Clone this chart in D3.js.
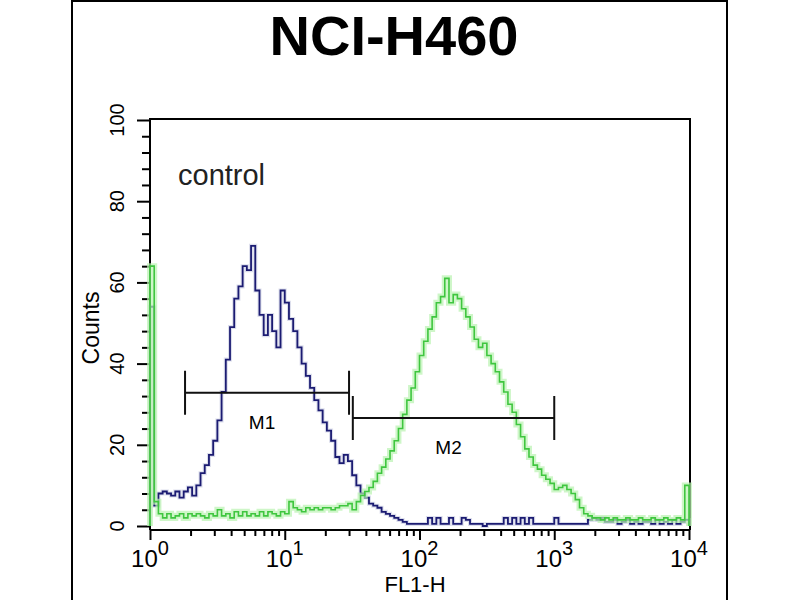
<!DOCTYPE html>
<html>
<head>
<meta charset="utf-8">
<script src="https://cdn.jsdelivr.net/npm/d3@7"></script>
<style>
  html, body { margin: 0; padding: 0; background: #fff; }
  svg { display: block; font-family: "Liberation Sans", Arial, sans-serif; }
</style>
</head>
<body>
<div id="chart"></div>
<script>
// FL1-H histogram, control (blue) vs sample (green)

const width = 800;
const height = 600;
const plot = {left: 150, right: 689, top: 120, bottom: 526};
const axisY = 530;

// 128 log channels over 4 decades
const nChannels = 128;

// counts per channel
const controlCounts = [
  54, 5, 8, 8.5, 8, 7.5, 8.5, 7, 8.5, 9.5, 7.5, 10, 13, 15, 17.5, 21,
  26, 33, 41, 49, 56, 59, 64, 63, 69, 58, 52, 47, 52, 48, 44, 58,
  55, 51, 48, 44, 40, 37, 34, 31, 28.5, 25.5, 23.5, 21, 17, 15.5, 17.5, 16,
  12.5, 10, 8, 7, 5.5, 5, 4.5, 3.5, 3, 2.5, 2, 1.5, 1, 0.5, 0.5, 0.5,
  0.5, 0.5, 2, 0.5, 2, 0.5, 0.5, 2, 0.5, 0.5, 2, 1.5, 0.5, 0.5, 0.5, 0,
  0.5, 0.5, 0.5, 0.5, 2, 0.5, 2, 0.5, 2, 0.5, 2, 0.5, 0.5, 0.5, 0.5, 0.5,
  2, 0.5, 0.5, 0.5, 0.5, 0.5, 0.5, 0.5, 1.5, 2, 1.5, 2, 1, 1, 1.5, 0.5,
  1, 1.5, 0.5, 1, 0.5, 1, 1, 0.5, 1.5, 0.5, 1, 0.5, 1.5, 0.5, 1, 1.5
];

const sampleCounts = [
  64, 6, 3, 2, 3, 2, 2.5, 3, 2, 3, 2.5, 3, 2.5, 2, 3, 2.5,
  4, 2.5, 3, 2, 3.5, 2.5, 3.5, 2.5, 3, 2.5, 3.5, 2.5, 3.5, 3, 2.5, 3.5,
  3, 6, 4.5, 4, 3.5, 4.5, 4, 4.5, 4, 4.5, 4.5, 4, 4.5, 5, 5, 5.5,
  4, 6, 7.5, 8.5, 9.5, 11, 13, 14.5, 16.5, 18.5, 21, 24, 27.5, 31, 34, 38,
  42, 45.5, 48.5, 51.5, 55, 56.5, 61, 55, 57, 56, 53.5, 51.5, 49, 46, 44, 45,
  42, 40, 38, 35.5, 33, 30, 28, 25, 22, 19, 17, 15, 14, 12.5, 11.5, 10.5,
  9, 9.5, 10, 9, 8, 6.5, 4.5, 3, 2.5, 2, 2, 1.5, 2, 1.5, 2, 1.5,
  1.5, 2, 1.5, 1.5, 2, 1.5, 1.5, 2, 1.5, 1.5, 2, 1.5, 1.5, 2, 1.5, 10
];

// axis ticks
const yTicks = [0, 20, 40, 60, 80, 100];
const xMajor = [1, 10, 100, 1000, 10000];
const xExponents = ["0", "1", "2", "3", "4"];

// marker gates
const gateNames = ["M1", "M2"];
const gateStart = [1.82, 32];
const gateEnd = [30, 1000];
const gateLevel = [32.8, 26.6];

const svg = d3.select("#chart")
  .append("svg")
  .attr("width", width)
  .attr("height", height)
  .attr("viewBox", [0, 0, width, height]);

// outer frame of the picture
svg.append("rect")
  .attr("x", 72).attr("y", 1)
  .attr("width", 655).attr("height", 620)
  .attr("fill", "none")
  .attr("stroke", "#000")
  .attr("stroke-width", 2);

const x = d3.scaleLog()
  .domain([1, 10000])
  .range([plot.left, plot.right]);

const y = d3.scaleLinear()
  .domain([0, 100])
  .range([plot.bottom, plot.top]);

// channel edges on the log axis
const edge = i => Math.pow(10, 4 * i / nChannels);

// plot box
svg.append("path")
  .attr("d", `M${plot.left},${axisY}V${plot.top - 1}H${plot.right + 1}V${axisY}`)
  .attr("fill", "none")
  .attr("stroke", "#000")
  .attr("stroke-width", 2);

// y axis, major + minor
const yMinor = d3.range(0, 101, 4).filter(v => v % 20 !== 0);
svg.append("g")
  .attr("transform", `translate(${plot.left},0)`)
  .call(d3.axisLeft(y).tickValues(yMinor).tickSize(8).tickFormat(""))
  .call(g => g.select(".domain").remove())
  .selectAll("line").attr("stroke-width", 2);
svg.append("g")
  .attr("transform", `translate(${plot.left},0)`)
  .call(d3.axisLeft(y).tickValues(yTicks).tickSize(13).tickFormat(""))
  .call(g => g.select(".domain").remove())
  .selectAll("line").attr("stroke-width", 2);

svg.selectAll(".ylab")
  .data(yTicks)
  .enter()
  .append("text")
    .attr("class", "ylab")
    .attr("transform", d => `translate(124,${y(d)}) rotate(-90)`)
    .attr("text-anchor", "middle")
    .attr("font-size", 20)
    .text(d => d);

// x axis, log ticks
const xMinor = [];
[1, 10, 100, 1000].forEach(p => [2, 3, 4, 5, 6, 7, 8, 9].forEach(m => xMinor.push(p * m)));
const xAxisLine = svg.append("g")
  .attr("transform", `translate(0,${axisY})`);
xAxisLine.call(d3.axisBottom(x).tickValues(xMinor).tickSize(6).tickFormat(""))
  .call(g => g.select(".domain").attr("stroke-width", 2).attr("d", `M${plot.left},0H${plot.right + 1}`))
  .selectAll("line").attr("stroke-width", 2);
svg.append("g")
  .attr("transform", `translate(0,${axisY})`)
  .call(d3.axisBottom(x).tickValues(xMajor).tickSize(10).tickFormat(""))
  .call(g => g.select(".domain").remove())
  .selectAll("line").attr("stroke-width", 2);

const xl = svg.selectAll(".xlab")
  .data(xMajor)
  .enter()
  .append("text")
    .attr("class", "xlab")
    .attr("x", d => x(d))
    .attr("y", 567)
    .attr("text-anchor", "middle")
    .attr("font-size", 24);
xl.append("tspan").text("10");
xl.append("tspan")
  .attr("font-size", 20)
  .attr("dy", -12)
  .text((d, i) => xExponents[i]);

// axis titles
svg.append("text")
  .attr("x", 415).attr("y", 592)
  .attr("text-anchor", "middle")
  .attr("font-size", 22)
  .text("FL1-H");

svg.append("text")
  .attr("transform", "translate(99,328) rotate(-90)")
  .attr("text-anchor", "middle")
  .attr("font-size", 23)
  .text("Counts");

svg.append("text")
  .attr("x", 394).attr("y", 55)
  .attr("text-anchor", "middle")
  .attr("font-size", 56)
  .attr("font-weight", "bold")
  .text("NCI-H460");

svg.append("text")
  .attr("x", 178).attr("y", 185)
  .attr("font-size", 29)
  .attr("fill", "#222")
  .text("control");

// histograms as steps
const histLine = d3.line()
  .x(d => x(d[0]))
  .y(d => y(d[1]))
  .curve(d3.curveStepAfter);

const toSteps = counts => {
  const pts = [[1, 0]];
  counts.forEach((c, i) => pts.push([edge(i), c]));
  pts.push([edge(nChannels), counts[nChannels - 1]]);
  pts.push([edge(nChannels), 0]);
  return pts;
};

const plotArea = svg.append("g");

// control, dark blue
plotArea.append("path")
  .datum(toSteps(controlCounts))
  .attr("d", histLine)
  .attr("fill", "none")
  .attr("stroke", "#9aa0c8")
  .attr("stroke-opacity", 0.35)
  .attr("stroke-width", 4);
plotArea.append("path")
  .datum(toSteps(controlCounts))
  .attr("d", histLine)
  .attr("fill", "none")
  .attr("stroke", "#1b1b72")
  .attr("stroke-width", 1.8);

// sample, green with glow
plotArea.append("path")
  .datum(toSteps(sampleCounts))
  .attr("d", histLine)
  .attr("fill", "none")
  .attr("stroke", "#b9f2b0")
  .attr("stroke-opacity", 0.7)
  .attr("stroke-width", 6);
plotArea.append("path")
  .datum(toSteps(sampleCounts))
  .attr("d", histLine)
  .attr("fill", "none")
  .attr("stroke", "#3fc63f")
  .attr("stroke-width", 1.6);

// gates
const gates = svg.selectAll(".gate")
  .data(gateNames)
  .enter()
  .append("g")
    .attr("class", "gate");

gates.append("path")
  .attr("d", (d, i) => {
    const x0 = x(gateStart[i]), x1 = x(gateEnd[i]), yy = y(gateLevel[i]);
    return `M${x0},${yy - 22}V${yy + 22}M${x0},${yy}H${x1}M${x1},${yy - 22}V${yy + 22}`;
  })
  .attr("fill", "none")
  .attr("stroke", "#111")
  .attr("stroke-width", 2);

gates.append("text")
  .attr("x", (d, i) => (x(gateStart[i]) + x(gateEnd[i])) / 2 - 5)
  .attr("y", (d, i) => y(gateLevel[i]) + 36)
  .attr("text-anchor", "middle")
  .attr("font-size", 19)
  .text(d => d);
</script>
</body>
</html>
